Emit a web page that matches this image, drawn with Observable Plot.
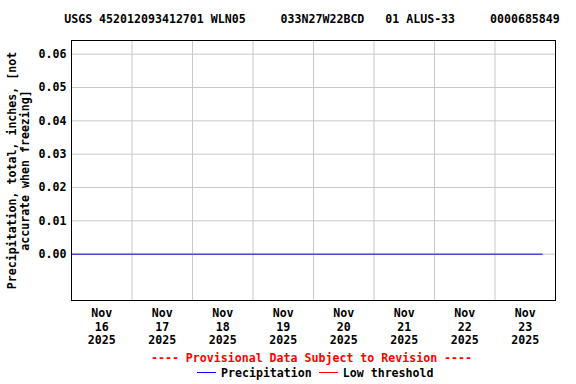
<!DOCTYPE html>
<html>
<head>
<meta charset="utf-8">
<script src="https://cdn.jsdelivr.net/npm/d3@7"></script>
<script src="https://cdn.jsdelivr.net/npm/@observablehq/plot@0.6"></script>
<style>
  html, body { margin: 0; padding: 0; background: #fff; }
  #wrap { position: relative; width: 576px; height: 384px; overflow: hidden; font-family: "DejaVu Sans Mono", monospace; font-weight: bold; font-size: 11.6px; }
  .abs { position: absolute; white-space: pre; line-height: 14px; }
  #title { left: 0; width: 624px; top: 12px; text-align: center; color: #000; }
  #prov { left: 0; width: 623px; top: 351px; text-align: center; color: #ff0000; }
  #legend { left: 0; top: 366px; width: 576px; color: #000; }
  .sw { display: inline-block; width: 19px; height: 1px; vertical-align: middle; position: relative; top: -1px; }
</style>
</head>
<body>
<div id="wrap">
  <div id="chart"></div>
  <div id="title" class="abs"></div>
  <div id="prov" class="abs"></div>
  <div id="legend" class="abs"></div>
</div>
<script>
// ---- data ----
const titleText = "USGS 452012093412701 WLN05     033N27W22BCD   01 ALUS-33     0000685849";
const provisionalText = "---- Provisional Data Subject to Revision ----";
const yLabelLines = ["Precipitation, total, inches, [not", "accurate when freezing]"];
const seriesNames = ["Precipitation", "Low threshold"];
const seriesColors = ["#0000cc", "#ff0000"];

const precipTimes = [
  "2025-11-16T00:00Z", "2025-11-17T00:00Z", "2025-11-18T00:00Z", "2025-11-19T00:00Z",
  "2025-11-20T00:00Z", "2025-11-21T00:00Z", "2025-11-22T00:00Z", "2025-11-23T00:00Z",
  "2025-11-23T18:45Z"
];
const precipValues = [0, 0, 0, 0, 0, 0, 0, 0, 0];

const xDomain = ["2025-11-16T00:00Z", "2025-11-24T00:00Z"];
const yDomain = [-0.0139, 0.0641];
const yTicks = [0.00, 0.01, 0.02, 0.03, 0.04, 0.05, 0.06];
const dayGridTimes = ["2025-11-17", "2025-11-18", "2025-11-19", "2025-11-20", "2025-11-21", "2025-11-22", "2025-11-23"];
const dayLabelTimes = ["2025-11-16", "2025-11-17", "2025-11-18", "2025-11-19", "2025-11-20", "2025-11-21", "2025-11-22", "2025-11-23"];

// ---- build ----
const precip = precipTimes.map((t, i) => ({date: new Date(t), value: precipValues[i]}));
const gridDates = dayGridTimes.map(d => new Date(d + "T00:00Z"));
const labelDates = dayLabelTimes.map(d => new Date(d + "T12:00Z"));
const fmtLabel = d3.utcFormat("%b\n%d\n%Y");

const font = "DejaVu Sans Mono, monospace";

const chart = Plot.plot({
  width: 576,
  height: 384,
  marginLeft: 71,
  marginRight: 21,
  marginTop: 40,
  marginBottom: 84,
  style: {fontFamily: font, fontSize: "11.6px", fontWeight: "bold", color: "#000", background: "#fff"},
  x: {type: "utc", domain: xDomain.map(d => new Date(d))},
  y: {domain: yDomain},
  marks: [
    Plot.ruleY(yTicks, {stroke: "#c8c8c8", strokeWidth: 1}),
    Plot.ruleX(gridDates, {stroke: "#c8c8c8", strokeWidth: 1}),
    Plot.line(precip, {x: "date", y: "value", stroke: seriesColors[0], strokeWidth: 1}),
    Plot.axisY(yTicks, {tickSize: 0, tickPadding: 5, tickFormat: d3.format(".2f"), label: null, fontWeight: "bold", fontSize: 11.6}),
    Plot.axisX(labelDates, {tickSize: 0, tickPadding: 7, tickFormat: fmtLabel, label: null, lineHeight: 1.17, fontWeight: "bold", fontSize: 11.6}),
    Plot.text([yLabelLines.join("\n")], {frameAnchor: "left", dx: -53, rotate: -90, lineHeight: 1.1, textAnchor: "middle", fontWeight: "bold", fontSize: 11.6}),
    Plot.frame({stroke: "#000", strokeWidth: 1})
  ]
});
document.getElementById("chart").appendChild(chart);

document.getElementById("title").textContent = titleText;
document.getElementById("prov").textContent = provisionalText;
const leg = document.getElementById("legend");
leg.innerHTML = "";
const legInner = document.createElement("div");
legInner.style.position = "absolute";
legInner.style.left = "197px";
seriesNames.forEach((name, i) => {
  const sw = document.createElement("span");
  sw.className = "sw";
  sw.style.background = i === 0 ? "#0000ff" : seriesColors[i];
  sw.style.marginRight = "5px";
  sw.style.marginLeft = i === 0 ? "0" : "7px";
  legInner.appendChild(sw);
  legInner.appendChild(document.createTextNode(name));
});
leg.appendChild(legInner);
</script>
</body>
</html>
